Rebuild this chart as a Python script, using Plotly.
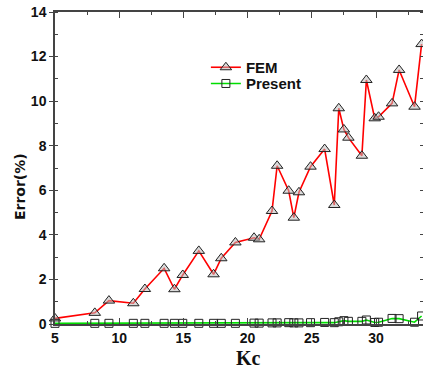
import plotly.graph_objects as go

kc = [5.0, 8.1, 9.2, 11.1, 12.0, 13.5, 14.3, 14.95, 16.2, 17.35, 17.95, 19.05, 20.5, 20.9,
      21.9, 22.3, 23.2, 23.6, 24.0, 24.9, 26.0, 26.75, 27.1, 27.5, 27.85, 28.9, 29.25,
      29.9, 30.2, 31.25, 31.8, 33.0, 33.55]
fem = [0.25, 0.5, 1.05, 0.93, 1.57, 2.5, 1.56, 2.2, 3.28, 2.23, 2.95, 3.66, 3.87, 3.8,
       5.07, 7.1, 5.98, 4.77, 5.91, 7.06, 7.85, 5.34, 9.68, 8.73, 8.36, 7.55, 10.95,
       9.23, 9.3, 9.9, 11.4, 9.75, 12.56]
present = [0.03, 0.03, 0.03, 0.03, 0.03, 0.03, 0.03, 0.03, 0.03, 0.03, 0.03, 0.03, 0.04, 0.04,
           0.05, 0.05, 0.06, 0.05, 0.05, 0.06, 0.07, 0.06, 0.1, 0.15, 0.12, 0.12, 0.18,
           0.07, 0.08, 0.25, 0.24, 0.08, 0.36]

x_ticks = [5, 10, 15, 20, 25, 30]
y_ticks = [0, 2, 4, 6, 8, 10, 12, 14]

fig = go.Figure()
fig.add_trace(go.Scatter(
    x=kc, y=fem, name="FEM", mode="lines+markers", legend="legend",
    line=dict(color="#ff0000", width=1.6),
    marker=dict(symbol="triangle-up", size=10, color="rgba(190,190,190,0.55)",
                line=dict(color="#222222", width=1)),
    cliponaxis=False,
))
fig.add_trace(go.Scatter(
    x=kc, y=present, name="Present", mode="lines+markers", legend="legend2",
    line=dict(color="#00dd00", width=1.6),
    marker=dict(symbol="square-open", size=8, color="#222222", line=dict(width=1)),
    cliponaxis=False,
))

axis_font = dict(family="Liberation Sans", size=14, color="#111111", weight="bold")
leg_font = dict(family="Liberation Sans", size=15, color="#111111", weight="bold")

fig.update_layout(
    width=423, height=369,
    margin=dict(l=55, r=0, t=12, b=45, autoexpand=False),
    paper_bgcolor="white", plot_bgcolor="white",
    showlegend=True,
    legend=dict(x=0.41, y=0.875, xanchor="left", yanchor="top",
                bgcolor="rgba(0,0,0,0)", borderwidth=0, font=leg_font,
                itemwidth=30),
    legend2=dict(x=0.41, y=0.823, xanchor="left", yanchor="top",
                 bgcolor="rgba(0,0,0,0)", borderwidth=0, font=leg_font,
                 itemwidth=30),
    xaxis=dict(range=[5, 33.66], tickvals=x_ticks, ticktext=[str(v) for v in x_ticks],
               automargin=False,
               showgrid=False, zeroline=False, showline=True, linecolor="#444444",
               linewidth=1.5, mirror="ticks", ticks="inside", ticklen=6, tickwidth=1,
               tickcolor="#444444", tickfont=axis_font,
               minor=dict(dtick=2.5, ticks="inside", ticklen=3, tickcolor="#444444")),
    yaxis=dict(range=[0, 14], tickvals=y_ticks, ticktext=[str(v) for v in y_ticks],
               automargin=False,
               showgrid=False, zeroline=False, showline=True, linecolor="#444444",
               linewidth=1.5, mirror="ticks", ticks="outside", ticklen=4, tickwidth=1,
               tickcolor="#444444", tickfont=axis_font,
               minor=dict(dtick=1, ticks="inside", ticklen=3, tickcolor="#444444")),
    annotations=[
        dict(text="Kc", xref="paper", yref="paper", x=0.527, y=-0.109,
             xanchor="center", yanchor="middle", showarrow=False,
             font=dict(family="Liberation Serif", size=20, color="#111111", weight="bold")),
        dict(text="Error(%)", xref="paper", yref="paper", x=-0.095, y=0.439,
             xanchor="center", yanchor="middle", showarrow=False, textangle=-90,
             font=dict(family="DejaVu Sans", size=14, color="#111111", weight="bold")),
    ],
)

fig.write_html("out.html")
